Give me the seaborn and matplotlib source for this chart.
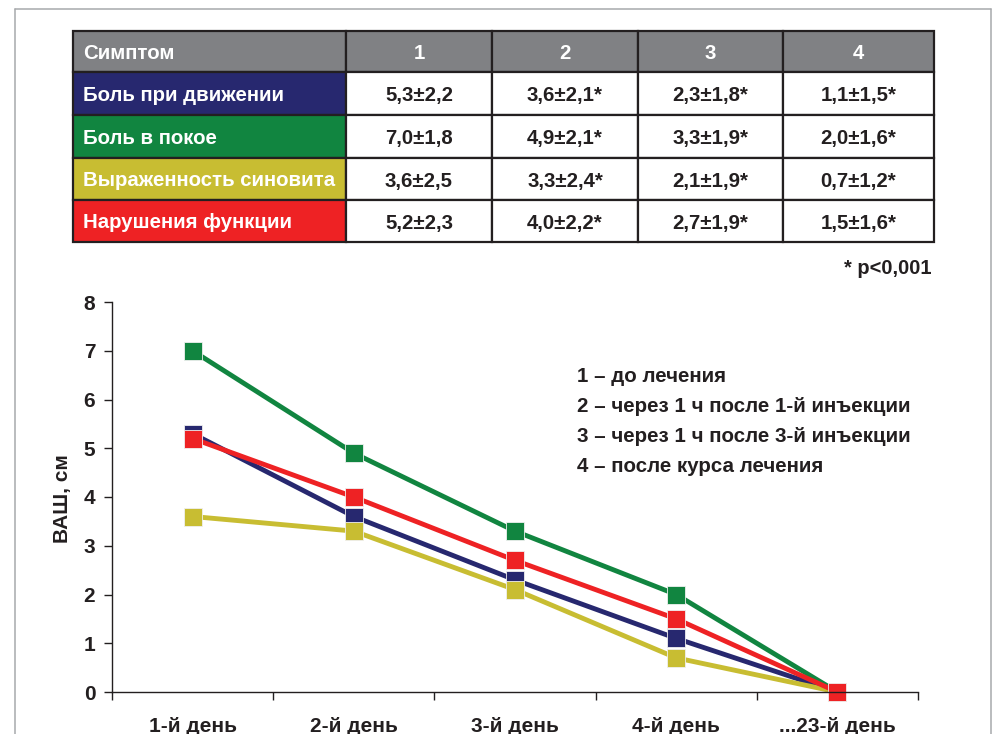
import numpy as np
import pandas as pd
import matplotlib
matplotlib.use("Agg")
import matplotlib.pyplot as plt
from matplotlib.patches import Rectangle
from matplotlib.lines import Line2D
import seaborn as sns

# ---- data -------------------------------------------------------------
symptoms = ["Боль при движении", "Боль в покое", "Выраженность синовита", "Нарушения функции"]
stage_labels = ["1", "2", "3", "4"]
stage_notes = [
    "1 – до лечения",
    "2 – через 1 ч после 1-й инъекции",
    "3 – через 1 ч после 3-й инъекции",
    "4 – после курса лечения",
]
days = ["1-й день", "2-й день", "3-й день", "4-й день", "...23-й день"]

mean_motion = [5.3, 3.6, 2.3, 1.1]
sd_motion = [2.2, 2.1, 1.8, 1.5]
mean_rest = [7.0, 4.9, 3.3, 2.0]
sd_rest = [1.8, 2.1, 1.9, 1.6]
mean_synovitis = [3.6, 3.3, 2.1, 0.7]
sd_synovitis = [2.5, 2.4, 1.9, 1.2]
mean_function = [5.2, 4.0, 2.7, 1.5]
sd_function = [2.3, 2.2, 1.9, 1.6]
significant = [False, True, True, True]
day23_values = [0.0, 0.0, 0.0, 0.0]   # motion, rest, synovitis, function

means = [mean_motion, mean_rest, mean_synovitis, mean_function]
sds = [sd_motion, sd_rest, sd_synovitis, sd_function]

colors = ["#27286f", "#118540", "#c8bd32", "#ee2224"]
header_color = "#808184"
ink = "#231f20"

# ---- style ------------------------------------------------------------
sns.set_theme(style="white")
plt.rcParams["font.family"] = ["Liberation Sans", "DejaVu Sans"]
plt.rcParams["font.weight"] = "bold"
plt.rcParams["text.color"] = ink

fig = plt.figure(figsize=(10.01, 7.34), dpi=100)

# full-figure layer in pixel units for the frame, table and notes
ov = fig.add_axes([0, 0, 1, 1], zorder=0)
ov.set_xlim(0, 1001)
ov.set_ylim(734, 0)
ov.axis("off")

frame_col = "#a7a9ac"
ov.add_line(Line2D([15, 15], [9, 734], color=frame_col, lw=1.1))
ov.add_line(Line2D([15, 991], [9, 9], color=frame_col, lw=1.1))
ov.add_line(Line2D([991, 991], [9, 734], color=frame_col, lw=1.1))

# ---- table ------------------------------------------------------------
col_edges = [73, 346, 492, 638, 783, 934]
row_edges = [31, 72, 115, 158, 200, 242]
fs_table = 14.7

def cell(r, c, face):
    x0, x1 = col_edges[c], col_edges[c + 1]
    y0, y1 = row_edges[r], row_edges[r + 1]
    ov.add_patch(Rectangle((x0, y0), x1 - x0, y1 - y0, facecolor=face,
                           edgecolor=ink, lw=1.6))
    return (x0 + x1) / 2, (y0 + y1) / 2

# header row
for c, txt in enumerate(["Симптом"] + stage_labels):
    cx, cy = cell(0, c, header_color)
    if c == 0:
        ov.text(col_edges[0] + 10, cy, txt, color="white", fontsize=fs_table,
                fontweight="bold", ha="left", va="center_baseline")
    else:
        ov.text(cx, cy, txt, color="white", fontsize=fs_table,
                fontweight="bold", ha="center", va="center_baseline")

# body rows
for r, name in enumerate(symptoms):
    cx, cy = cell(r + 1, 0, colors[r])
    ov.text(col_edges[0] + 10, cy, name, color="white", fontsize=fs_table,
            fontweight="bold", ha="left", va="center_baseline")
    for c in range(4):
        cx, cy = cell(r + 1, c + 1, "white")
        s = f"{means[r][c]:.1f}±{sds[r][c]:.1f}".replace(".", ",")
        if significant[c]:
            s += "*"
        ov.text(cx, cy, s, color=ink, fontsize=fs_table, fontweight="bold",
                ha="center", va="center_baseline")

ov.text(932, 267, "* p<0,001", fontsize=14.5, fontweight="bold",
        ha="right", va="center_baseline")

# stage notes
for i, note in enumerate(stage_notes):
    ov.text(577, 374 + 30 * i, note, fontsize=14.8, fontweight="bold",
            ha="left", va="center_baseline")

# ---- line chart -------------------------------------------------------
rows = []
for name, m, last in zip(symptoms, means, day23_values):
    for i, v in enumerate(list(m) + [last]):
        rows.append({"pos": i, "day": days[i], "value": v, "symptom": name})
df = pd.DataFrame(rows)

ax = fig.add_axes([112 / 1001, 1 - 692 / 734, (918 - 112) / 1001, (692 - 302) / 734],
                  zorder=1)
ax.patch.set_alpha(0)

draw_order = ["Боль при движении", "Боль в покое", "Выраженность синовита", "Нарушения функции"]
palette = dict(zip(symptoms, colors))
sns.lineplot(data=df, x="pos", y="value", hue="symptom", hue_order=draw_order,
             palette=palette, marker="s", markersize=13.5, linewidth=3.5,
             markeredgewidth=0.6, markeredgecolor="#f0f0f0",
             legend=False, sort=False, ax=ax, clip_on=False)

ax.set_xlim(-0.5, len(days) - 0.5)
ax.set_ylim(0, 8)
ax.set_xticks(np.arange(-0.5, len(days), 1.0))
ax.set_xticklabels([])
ax.set_xticks(np.arange(len(days)), minor=True)
ax.set_xticklabels(days, minor=True, fontsize=15, fontweight="bold", color=ink)
ax.set_yticks(range(0, 9))
ax.set_yticklabels([str(v) for v in range(0, 9)], fontsize=15,
                   fontweight="bold", color=ink)
ax.tick_params(axis="x", which="major", direction="out", length=6, width=1,
               color=ink, bottom=True)
ax.tick_params(axis="x", which="minor", length=0, pad=18)
ax.tick_params(axis="y", direction="out", length=6, width=1, color=ink,
               left=True, pad=6)
ax.set_xlabel("")
ax.set_ylabel("ВАШ, см", fontsize=15, fontweight="bold", color=ink)
ax.yaxis.set_label_coords(-0.05, 0.497)
sns.despine(ax=ax)
for sp in ("left", "bottom"):
    ax.spines[sp].set_color(ink)
    ax.spines[sp].set_linewidth(1.0)
ax.grid(False)

fig.savefig("out.png", dpi=100)
